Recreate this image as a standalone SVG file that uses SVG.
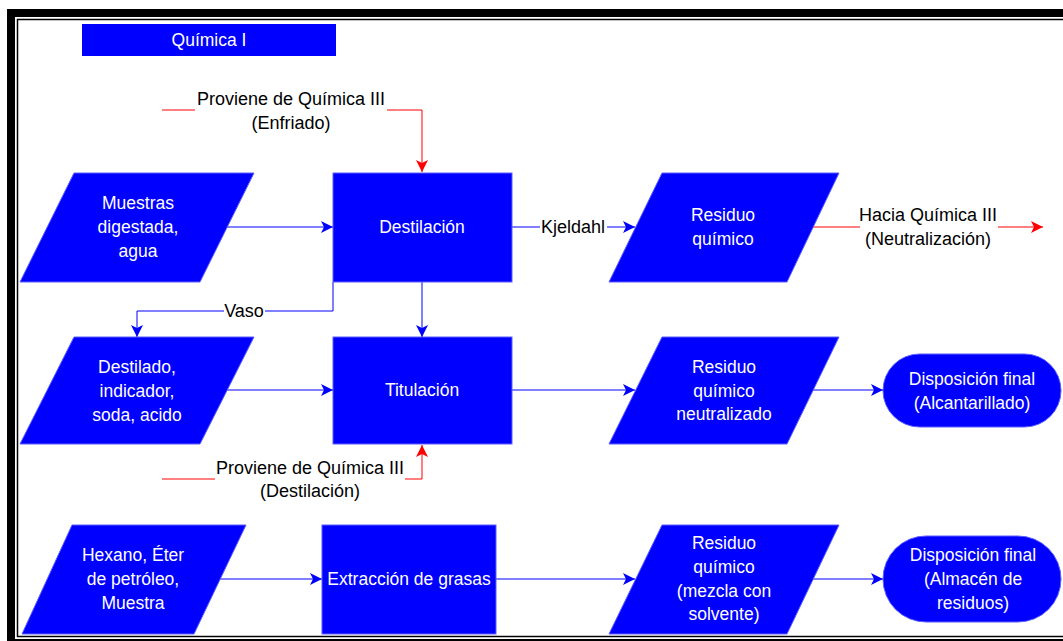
<svg xmlns="http://www.w3.org/2000/svg" width="1063" height="641" viewBox="0 0 1063 641">
  <style>
    .shape { fill: #0000ff; stroke: #5c5cff; stroke-width: 1; }
    .wt { fill: #ffffff; font-family: "Liberation Sans", Arial, sans-serif; font-size: 17.5px; text-anchor: middle; dominant-baseline: central; }
    .lbl { fill: #000000; font-family: "Liberation Sans", Arial, sans-serif; font-size: 18px; text-anchor: middle; dominant-baseline: central; }
    .blue { fill: none; stroke: #0000ff; stroke-width: 1; }
    .red { fill: none; stroke: #ff0000; stroke-width: 1; }
  </style>
  <defs>
    <marker id="arrowBlue" markerUnits="userSpaceOnUse" markerWidth="12" markerHeight="12" viewBox="0 0 12 12" refX="12" refY="6" orient="auto">
      <path d="M0,0 L12,6 L0,12 L3,6 z" fill="#0000ff"/>
    </marker>
    <marker id="arrowRed" markerUnits="userSpaceOnUse" markerWidth="12" markerHeight="12" viewBox="0 0 12 12" refX="12" refY="6" orient="auto">
      <path d="M0,0 L12,6 L0,12 L3,6 z" fill="#ff0000"/>
    </marker>
  </defs>

  <rect width="1063" height="641" fill="#ffffff"/>

  <!-- page frame: thick outer rule and thin inner rule -->
  <rect x="11" y="13" width="1080" height="630" fill="none" stroke="#000000" stroke-width="8"/>
  <rect x="17.5" y="19.5" width="1080" height="617" fill="none" stroke="#000000" stroke-width="1.5"/>

  <!-- title -->
  <g id="titulo">
    <rect x="82" y="24" width="254" height="32" fill="#0000ff"/>
    <text class="wt" x="209" y="40">Química I</text>
  </g>

  <!-- connectors -->
  <g id="conectores">
    <path class="red" d="M162,110 L195,110 M387,110 L422,110 L422,172" marker-end="url(#arrowRed)"/>
    <path class="blue" d="M227,227 L333,227" marker-end="url(#arrowBlue)"/>
    <path class="blue" d="M512,227 L540,227 M607,227 L635,227" marker-end="url(#arrowBlue)"/>
    <path class="red" d="M812,227 L860,227 M998,227 L1043,227" marker-end="url(#arrowRed)"/>
    <path class="blue" d="M422,282 L422,337" marker-end="url(#arrowBlue)"/>
    <path class="blue" d="M333,282 L333,311 L265,311 M224,311 L137,311 L137,337" marker-end="url(#arrowBlue)"/>
    <path class="blue" d="M227,390 L333,390" marker-end="url(#arrowBlue)"/>
    <path class="blue" d="M512,390 L635,390" marker-end="url(#arrowBlue)"/>
    <path class="blue" d="M812,390 L883,390" marker-end="url(#arrowBlue)"/>
    <path class="red" d="M162,479 L215,479 M405,479 L422,479 L422,445" marker-end="url(#arrowRed)"/>
    <path class="blue" d="M220,579 L322,579" marker-end="url(#arrowBlue)"/>
    <path class="blue" d="M496,579 L635,579" marker-end="url(#arrowBlue)"/>
    <path class="blue" d="M812,579 L883,579" marker-end="url(#arrowBlue)"/>

    <text class="lbl" x="291" y="99">Proviene de Química III</text>
    <text class="lbl" x="291" y="123">(Enfriado)</text>
    <text class="lbl" x="573" y="227">Kjeldahl</text>
    <text class="lbl" x="928" y="215">Hacia Química III</text>
    <text class="lbl" x="928" y="239">(Neutralización)</text>
    <text class="lbl" x="244" y="311">Vaso</text>
    <text class="lbl" x="310" y="468">Proviene de Química III</text>
    <text class="lbl" x="310" y="491">(Destilación)</text>
  </g>

  <!-- row 1 -->
  <g id="muestras">
    <polygon class="shape" points="74,173 254,173 200,282 20,282"/>
    <text class="wt" x="138" y="203">Muestras</text>
    <text class="wt" x="138" y="227">digestada,</text>
    <text class="wt" x="138" y="251">agua</text>
  </g>
  <g id="destilacion">
    <rect class="shape" x="333" y="173" width="179" height="109"/>
    <text class="wt" x="422" y="227">Destilación</text>
  </g>
  <g id="residuo1">
    <polygon class="shape" points="662,173 839,173 787,282 609,282"/>
    <text class="wt" x="723" y="215">Residuo</text>
    <text class="wt" x="723" y="239">químico</text>
  </g>

  <!-- row 2 -->
  <g id="destilado">
    <polygon class="shape" points="74,337 254,337 200,444 20,444"/>
    <text class="wt" x="137" y="367">Destilado,</text>
    <text class="wt" x="137" y="391">indicador,</text>
    <text class="wt" x="137" y="415">soda, acido</text>
  </g>
  <g id="titulacion">
    <rect class="shape" x="333" y="337" width="179" height="107"/>
    <text class="wt" x="422" y="390">Titulación</text>
  </g>
  <g id="residuo2">
    <polygon class="shape" points="662,337 839,337 787,444 609,444"/>
    <text class="wt" x="724" y="367">Residuo</text>
    <text class="wt" x="724" y="391">químico</text>
    <text class="wt" x="724" y="414">neutralizado</text>
  </g>
  <g id="disposicion1">
    <rect class="shape" x="883" y="354" width="178" height="73" rx="36.5" ry="36.5"/>
    <text class="wt" x="972" y="379">Disposición final</text>
    <text class="wt" x="972" y="403">(Alcantarillado)</text>
  </g>

  <!-- row 3 -->
  <g id="hexano">
    <polygon class="shape" points="72,525 246,525 194,634 22,634"/>
    <text class="wt" x="133" y="555">Hexano, Éter</text>
    <text class="wt" x="133" y="579">de petróleo,</text>
    <text class="wt" x="133" y="603">Muestra</text>
  </g>
  <g id="extraccion">
    <rect class="shape" x="322" y="525" width="174" height="109"/>
    <text class="wt" x="409" y="579">Extracción de grasas</text>
  </g>
  <g id="residuo3">
    <polygon class="shape" points="662,525 839,525 787,634 609,634"/>
    <text class="wt" x="724" y="543">Residuo</text>
    <text class="wt" x="724" y="567">químico</text>
    <text class="wt" x="724" y="591">(mezcla con</text>
    <text class="wt" x="724" y="614">solvente)</text>
  </g>
  <g id="disposicion2">
    <rect class="shape" x="883" y="536" width="178" height="86" rx="43" ry="43"/>
    <text class="wt" x="973" y="555">Disposición final</text>
    <text class="wt" x="973" y="579">(Almacén de</text>
    <text class="wt" x="973" y="603">residuos)</text>
  </g>
</svg>
